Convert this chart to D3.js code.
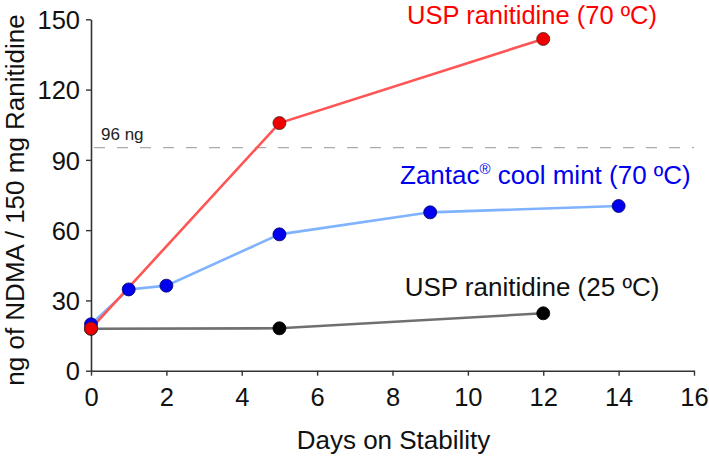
<!DOCTYPE html>
<html><head><meta charset="utf-8">
<script src="https://cdn.jsdelivr.net/npm/d3@7"></script>
<style>body{margin:0;background:#fff}svg{display:block;font-family:"Liberation Sans",Arial,sans-serif}</style>
</head><body><svg id="c" width="709" height="456"></svg>
<script>
const usp70Days = [0, 5, 12];
const usp70Values = [18, 105.7, 141.6];
const zantacDays = [0, 1, 2, 5, 9, 14];
const zantacValues = [19.8, 34.7, 36.3, 58.2, 67.6, 70.3];
const usp25Days = [0, 5, 12];
const usp25Values = [17.9, 18.1, 24.5];
const xTicks = [0, 2, 4, 6, 8, 10, 12, 14, 16];
const yTicks = [0, 30, 60, 90, 120, 150];
const thresholdValue = 95.2;
const thresholdLabel = "96 ng";
const seriesNames = ["USP ranitidine (70 ºC)", "Zantac® cool mint (70 ºC)", "USP ranitidine (25 ºC)"];

const svg = d3.select("#c");
const x = d3.scaleLinear().domain([0, 16]).range([91, 694]);
const y = d3.scaleLinear().domain([0, 150]).range([370.7, 19.3]);

// axes
const xa = svg.append("g").attr("transform", "translate(0,370.7)")
  .call(d3.axisBottom(x).tickValues(xTicks).tickSize(5).tickPadding(6).tickSizeOuter(0));
const ya = svg.append("g").attr("transform", "translate(91,0)")
  .call(d3.axisLeft(y).tickValues(yTicks).tickSize(5).tickPadding(6).tickSizeOuter(0));
[xa, ya].forEach(a => {
  a.select(".domain").attr("stroke", "#333").attr("stroke-width", 1.6);
  a.selectAll(".tick line").attr("stroke", "#333").attr("stroke-width", 1.4);
  a.selectAll("text").attr("font-size", 25.5).attr("fill", "#111").attr("font-family", '"Liberation Sans",Arial,sans-serif');
});
xa.selectAll("text").attr("dy", "0.95em");
ya.selectAll("text").attr("dy", "0.36em");

// titles
svg.append("text").attr("x", 393.5).attr("y", 449).attr("text-anchor", "middle")
  .attr("font-size", 26).attr("fill", "#111").text("Days on Stability");
svg.append("text").attr("transform", "translate(24,200) rotate(-90)").attr("text-anchor", "middle")
  .attr("font-size", 26).attr("fill", "#111").text("ng of NDMA / 150 mg Ranitidine");

// threshold
svg.append("line").attr("x1", x(0)).attr("x2", x(16)).attr("y1", y(thresholdValue)).attr("y2", y(thresholdValue))
  .attr("stroke", "#aaa").attr("stroke-width", 1.3).attr("stroke-dasharray", "11,12").attr("stroke-dashoffset", -3);
svg.append("text").attr("x", 101).attr("y", 140).attr("font-size", 17).attr("fill", "#222").text(thresholdLabel);

const series = [
  {days: usp25Days, vals: usp25Values, line: "#707070", fill: "#000", stroke: "#000"},
  {days: zantacDays, vals: zantacValues, line: "#80b3ff", fill: "#0000ee", stroke: "#000066"},
  {days: usp70Days, vals: usp70Values, line: "#ff5555", fill: "#ee0000", stroke: "#442222"}
];
const line = d3.line().x(d => x(d[0])).y(d => y(d[1]));
series.forEach(s => {
  const pts = s.days.map((d, i) => [d, s.vals[i]]);
  svg.append("path").attr("d", line(pts)).attr("fill", "none").attr("stroke", s.line).attr("stroke-width", 2.6);
});
series.forEach(s => {
  const pts = s.days.map((d, i) => [d, s.vals[i]]);
  svg.selectAll(null).data(pts).enter().append("circle")
    .attr("cx", d => x(d[0])).attr("cy", d => y(d[1])).attr("r", 6.5)
    .attr("fill", s.fill).attr("stroke", s.stroke).attr("stroke-width", 0.8);
});

// labels
svg.append("text").attr("x", 532).attr("y", 23.5).attr("text-anchor", "middle").attr("font-size", 25.5)
  .attr("fill", "#ff0000").text(seriesNames[0]);
const zt = svg.append("text").attr("x", 400).attr("y", 184).attr("font-size", 26).attr("fill", "#0000ee");
zt.append("tspan").text("Zantac");
zt.append("tspan").attr("font-size", 15).attr("dy", -10).text("®");
zt.append("tspan").attr("dy", 10).text(" cool mint (70 ºC)");
svg.append("text").attr("x", 532).attr("y", 296).attr("text-anchor", "middle").attr("font-size", 26)
  .attr("fill", "#111").text(seriesNames[2]);
</script></body></html>
